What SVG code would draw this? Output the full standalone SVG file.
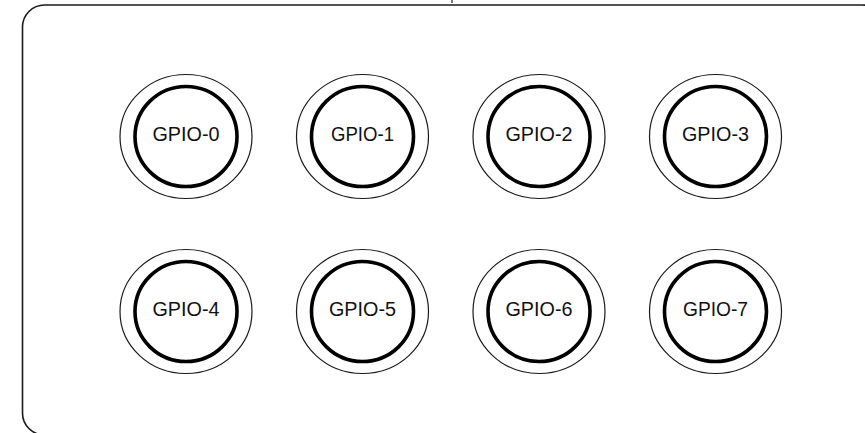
<svg xmlns="http://www.w3.org/2000/svg" width="865" height="433" viewBox="0 0 865 433">
  <style>
    .frame { fill: #ffffff; stroke: #1a1a1a; stroke-width: 1.6; }
    .outer { fill: #ffffff; stroke: #1a1a1a; stroke-width: 1.2; }
    .inner { fill: #ffffff; stroke: #000000; stroke-width: 3.6; }
    .label { font-family: "Liberation Sans", Arial, sans-serif; font-size: 20px; fill: #111111; text-anchor: middle; }
    .conn { stroke: #1a1a1a; stroke-width: 1.2; fill: none; }
  </style>
  <rect width="865" height="433" fill="#ffffff"/>
  <g id="board">
    <rect class="frame" x="22.5" y="5" width="862" height="430" rx="22" ry="22"/>
  </g>
  <g id="connectors">
    <line class="conn" x1="452" y1="0" x2="452" y2="3"/>
  </g>
  <g id="gpio-0">
    <ellipse class="outer" cx="186" cy="136.5" rx="66" ry="62"/>
    <ellipse class="inner" cx="186" cy="136.5" rx="51" ry="50"/>
    <text class="label" x="186" y="140.5" textLength="67" lengthAdjust="spacingAndGlyphs">GPIO-0</text>
  </g>
  <g id="gpio-1">
    <ellipse class="outer" cx="362.5" cy="136.5" rx="66" ry="62"/>
    <ellipse class="inner" cx="362.5" cy="136.5" rx="51" ry="50"/>
    <text class="label" x="362.5" y="140.5" textLength="63" lengthAdjust="spacingAndGlyphs">GPIO-1</text>
  </g>
  <g id="gpio-2">
    <ellipse class="outer" cx="539" cy="136.5" rx="66" ry="62"/>
    <ellipse class="inner" cx="539" cy="136.5" rx="51" ry="50"/>
    <text class="label" x="539" y="140.5" textLength="67" lengthAdjust="spacingAndGlyphs">GPIO-2</text>
  </g>
  <g id="gpio-3">
    <ellipse class="outer" cx="715.5" cy="136.5" rx="66" ry="62"/>
    <ellipse class="inner" cx="715.5" cy="136.5" rx="51" ry="50"/>
    <text class="label" x="715.5" y="140.5" textLength="67" lengthAdjust="spacingAndGlyphs">GPIO-3</text>
  </g>
  <g id="gpio-4">
    <ellipse class="outer" cx="186" cy="311.5" rx="66" ry="62"/>
    <ellipse class="inner" cx="186" cy="311.5" rx="51" ry="50"/>
    <text class="label" x="186" y="315.5" textLength="67" lengthAdjust="spacingAndGlyphs">GPIO-4</text>
  </g>
  <g id="gpio-5">
    <ellipse class="outer" cx="362.5" cy="311.5" rx="66" ry="62"/>
    <ellipse class="inner" cx="362.5" cy="311.5" rx="51" ry="50"/>
    <text class="label" x="362.5" y="315.5" textLength="67" lengthAdjust="spacingAndGlyphs">GPIO-5</text>
  </g>
  <g id="gpio-6">
    <ellipse class="outer" cx="539" cy="311.5" rx="66" ry="62"/>
    <ellipse class="inner" cx="539" cy="311.5" rx="51" ry="50"/>
    <text class="label" x="539" y="315.5" textLength="67" lengthAdjust="spacingAndGlyphs">GPIO-6</text>
  </g>
  <g id="gpio-7">
    <ellipse class="outer" cx="715.5" cy="311.5" rx="66" ry="62"/>
    <ellipse class="inner" cx="715.5" cy="311.5" rx="51" ry="50"/>
    <text class="label" x="715.5" y="315.5" textLength="65" lengthAdjust="spacingAndGlyphs">GPIO-7</text>
  </g>
</svg>
